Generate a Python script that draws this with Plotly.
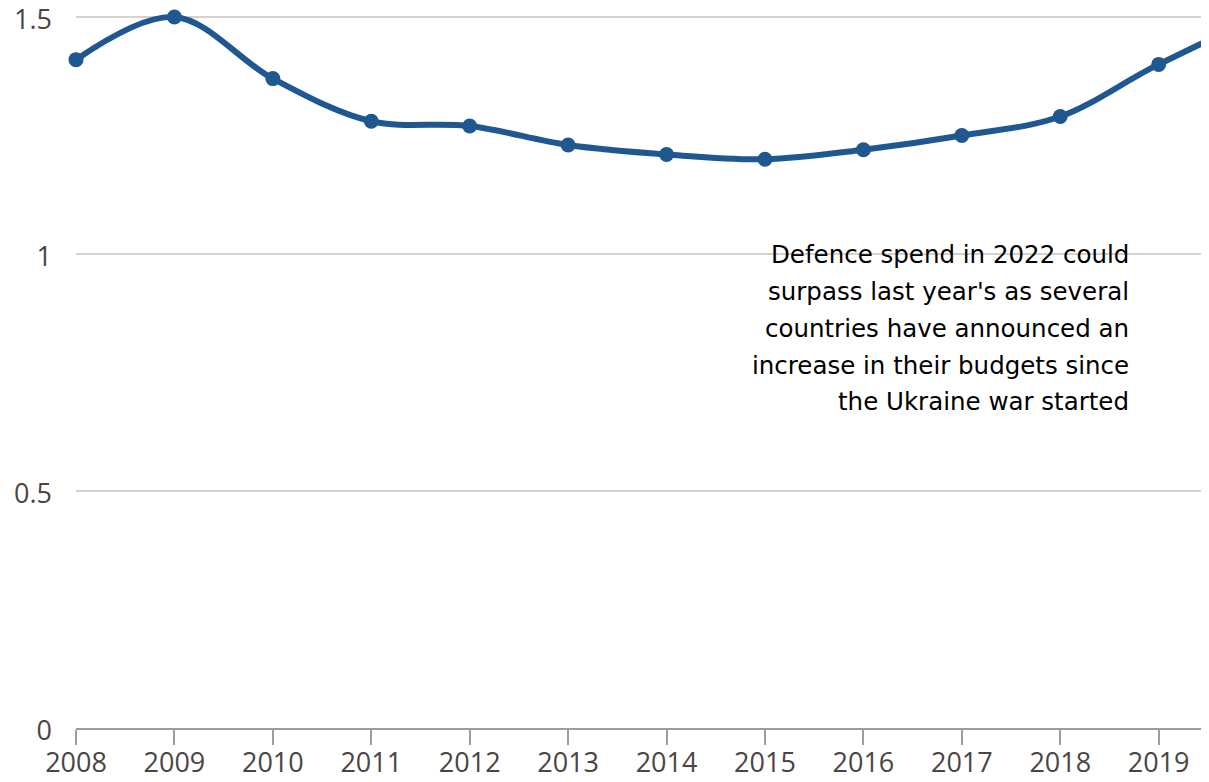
import plotly.graph_objects as go

years = [2008, 2009, 2010, 2011, 2012, 2013, 2014, 2015, 2016, 2017, 2018, 2019, 2020, 2021]
values = [1.41, 1.50, 1.37, 1.28, 1.27, 1.23, 1.21, 1.20, 1.22, 1.25, 1.29, 1.40, 1.49, 1.52]

y_ticks = [0, 0.5, 1, 1.5]
y_tick_labels = ["0", "0.5", "1", "1.5"]
x_ticks = list(range(2008, 2020))
x_max = 2019.43

note_lines = [
    "Defence spend in 2022 could",
    "surpass last year's as several",
    "countries have announced an",
    "increase in their budgets since",
    "the Ukraine war started",
]

LINE_COLOR = "#1f5791"
TICK_FONT = "Open Sans"
NOTE_FONT = "DejaVu Sans"

fig = go.Figure()
fig.add_trace(go.Scatter(
    x=years, y=values,
    mode="lines",
    line=dict(color=LINE_COLOR, width=6, shape="spline", smoothing=1.0),
    showlegend=False, hoverinfo="skip",
))
vis = [(x, y) for x, y in zip(years, values) if x <= x_max]
fig.add_trace(go.Scatter(
    x=[p[0] for p in vis], y=[p[1] for p in vis],
    mode="markers",
    marker=dict(color=LINE_COLOR, size=15),
    cliponaxis=False,
    showlegend=False, hoverinfo="skip",
))

for i, t in enumerate(note_lines):
    fig.add_annotation(
        x=2018.72, xref="x", xanchor="right",
        y=0.998 - i * 0.0775, yref="y", yanchor="middle",
        text=t, showarrow=False,
        font=dict(family=NOTE_FONT, size=24.5, color="#000000"),
        align="right",
    )

fig.update_layout(
    width=1209, height=782,
    margin=dict(l=76, r=8, t=0, b=54, autoexpand=False),
    paper_bgcolor="white", plot_bgcolor="white",
    font=dict(family=TICK_FONT, size=26, color="#4a4542"),
)
fig.update_xaxes(
    range=[2008, x_max], automargin=False,
    tickvals=x_ticks, ticktext=[str(v) for v in x_ticks],
    showgrid=False, zeroline=False,
    showline=True, linecolor="#a39a94", linewidth=2,
    ticks="outside", ticklen=15, tickwidth=2, tickcolor="#a39a94",
    ticklabelstandoff=-5,
    tickfont=dict(family=TICK_FONT, size=27, color="#4a4542"),
)
fig.update_yaxes(
    range=[0, 728 / 474], automargin=False,
    tickvals=y_ticks, ticktext=y_tick_labels,
    showgrid=True, gridcolor="#d9d0ca", gridwidth=2,
    zeroline=False, showline=False,
    ticks="", ticklabelstandoff=23, ticklabeloverflow="allow",
    ticklabelshift=3,
    tickfont=dict(family=TICK_FONT, size=27, color="#4a4542"),
)

fig.write_html("out.html")
